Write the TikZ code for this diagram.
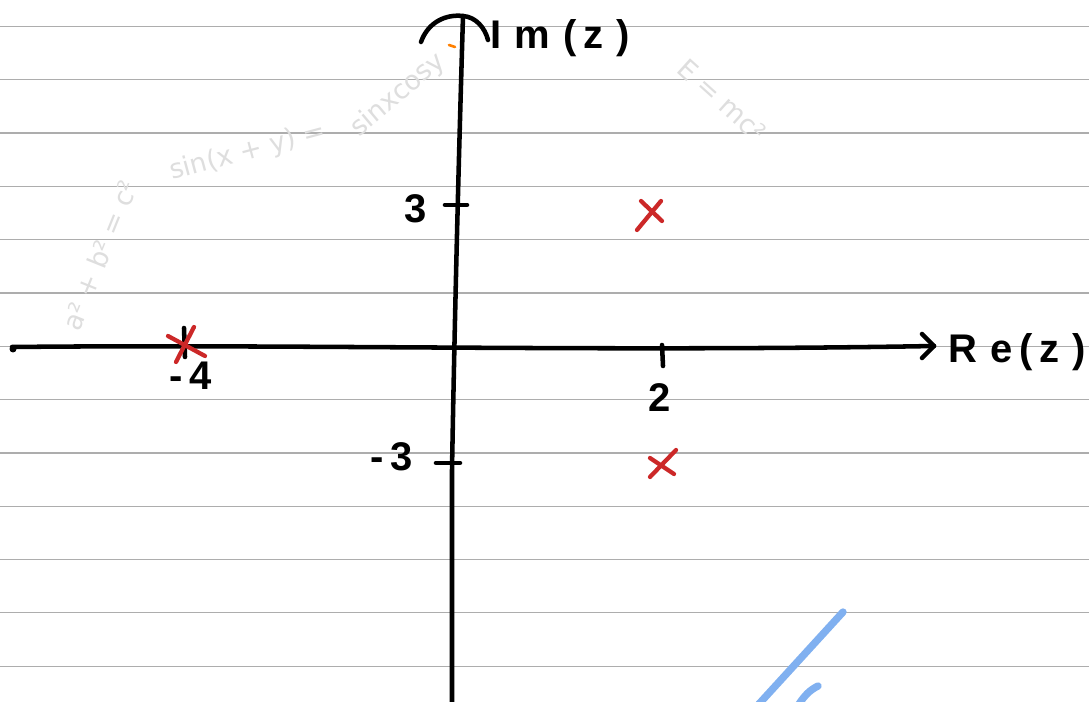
\documentclass[tikz,border=0pt]{standalone}
\usepackage{fontspec}
\setmainfont{Liberation Sans}
\newfontfamily\wmfont{DejaVu Sans}
\definecolor{crossred}{RGB}{204,40,40}
\definecolor{penblue}{RGB}{128,176,240}
\begin{document}
\begin{tikzpicture}[x=0.75pt,y=-0.75pt,
  rule/.style={draw=black!32, line width=0.9pt},
  ink/.style={draw=black, line width=3.4pt, line cap=round, line join=round},
  redx/.style={draw=crossred, line width=3.2pt, line cap=round},
  bluestroke/.style={draw=penblue, line width=5.5pt, line cap=round},
  hand/.style={font=\fontsize{30}{30}\selectfont\bfseries, text=black, inner sep=0pt},
  wm/.style={font=\wmfont\fontsize{20}{20}\selectfont, text=black!13, inner sep=0pt}]
\useasboundingbox (0,0) rectangle (1089,702);
\fill[white] (0,0) rectangle (1089,702);
% ruled lines
\foreach \k in {0,...,12} {
  \draw[rule] (0,{26.5+53.3*\k}) -- (1089,{26.5+53.3*\k});
}
% faint watermark texts
\node[wm, rotate=15] (w1) at (248,152) {sin(x + y) =};
\node[wm, rotate=40] (w2) at (398,95) {sinxcosy};
\node[wm, rotate=-42] (w3) at (722,100) {E = mc²};
\node[wm, rotate=68] (w4) at (100,255) {a² + b² = c²};
% horizontal axis
\coordinate (xs) at (12,347);
\coordinate (xe) at (934,346);
\draw[ink] (xs) .. controls (300,344) and (600,352) .. (xe);
\fill (13,349) circle (3.5);
\coordinate (xa1) at (922,334);
\coordinate (xa2) at (922,358);
\draw[ink] (xa1) -- (xe) -- (xa2);
% vertical axis
\coordinate (ys) at (452,702);
\coordinate (ye) at (463,16);
\draw[ink] (ys) -- (452,470) .. controls (455,300) and (459,150) .. (ye);
\coordinate (ya1) at (421,42);
\coordinate (ya2) at (488,40);
\draw[ink] (ya1) .. controls (428,22) and (446,14) .. (ye) .. controls (476,17) and (485,28) .. (ya2);
\draw[draw=orange, line width=2pt, line cap=round] (449,45) -- (455,47);
% ticks
\draw[ink] (445,205) -- (467,205);
\draw[ink] (436,463) -- (460,463);
\draw[ink] (662,345) -- (663,366);
\draw[ink] (184,328) -- (185,357);
% tick labels
\node[hand] (l3) at (416,209) {3};
\node[hand] (lm3) at (392,457) {-\,3};
\node[hand] (l2) at (660,398) {2};
\node[hand] (lm4) at (191,376) {-\,4};
% axis labels
\node[hand, anchor=west] (im) at (490,38) {I\,\,m\,\,(\,z\,\,)};
\node[hand, anchor=west] (re) at (948,352) {R\,\,e\,(\,z\,\,)};
% red crosses
\draw[redx] (641,201) -- (662,221);
\draw[redx] (661,201) -- (637,230);
\draw[redx] (650,458) -- (674,474);
\draw[redx] (676,450) -- (650,477);
\draw[redx] (168,336) -- (205,356);
\draw[redx] (194,327) -- (176,362);
% blue strokes
\draw[bluestroke] (843,612) -- (758,705);
\draw[bluestroke] (818,686) .. controls (810,690) and (805,695) .. (799,704);
\end{tikzpicture}
\end{document}
